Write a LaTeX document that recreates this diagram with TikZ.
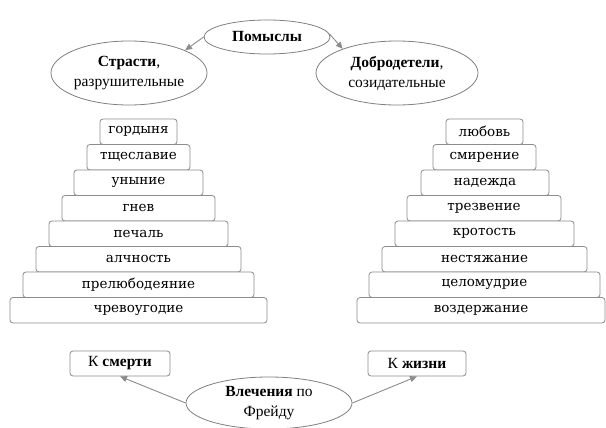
\documentclass[tikz,border=0pt]{standalone}
\usepackage{fontspec}
\setmainfont{Liberation Serif}
\newfontfamily\boxfont{DejaVu Serif}
\usetikzlibrary{shapes.geometric,arrows.meta}
\tikzset{
  stepbox/.style={draw=black!45, line width=0.8pt, rounded corners=3pt, fill=white,
    minimum height=25.5pt, inner sep=0pt, font=\boxfont\fontsize{13.5}{15}\selectfont},
  oval/.style={ellipse, draw=black!50, line width=0.8pt, inner sep=0pt, align=center,
    font=\fontsize{15.5}{20}\selectfont},
  arr/.style={draw=black!45, line width=0.9pt, -{Triangle[length=7pt,width=6pt]}},
  lbox/.style={draw=black!45, line width=0.8pt, rounded corners=3pt, minimum height=25pt,
    inner sep=0pt, font=\fontsize{15.5}{16}\selectfont}
}
\begin{document}
\begin{tikzpicture}[x=1pt,y=-1pt]
\useasboundingbox (0,0) rectangle (606,428);
\fill[white] (0,0) rectangle (606,428);

% top ellipses
\node[oval, minimum width=126pt, minimum height=34pt] (pom) at (267,37) {\textbf{Помыслы}};
\node[oval, minimum width=152pt, minimum height=64pt] (str) at (129,73) {\textbf{Страсти},\\разрушительные};
\node[oval, minimum width=162pt, minimum height=64pt] (dob) at (397,73) {\textbf{Добродетели},\\созидательные};

\draw[arr] (pom.180) -- (str.22);
\draw[arr] (pom.3) -- (dob.156);

% left pyramid
\foreach \t/\w [count=\i from 0] in {гордыня/77, тщеславие/103, уныние/129, гнев/153,
    печаль/179, алчность/205, прелюбодеяние/231, чревоугодие/257}{
  \node[stepbox, minimum width=\w pt] (L\i) at (138.5,{131.75+25.5*\i}) {\t};
}
% right pyramid
\foreach \t/\w/\cx [count=\i from 0] in {любовь/77/484.5, смирение/103/484.5, надежда/128/485,
    трезвение/154/484, кротость/179/484.5, нестяжание/205/484.5, целомудрие/231/484.5,
    воздержание/248/481}{
  \node[stepbox, minimum width=\w pt] (R\i) at (\cx,{131.75+25.5*\i}) {\t};
}

% bottom
\node[lbox, minimum width=100pt] (smert) at (120,363.5) {К \textbf{смерти}};
\node[lbox, minimum width=98pt] (zhizn) at (417,363.5) {К \textbf{жизни}};
\node[oval, minimum width=166pt, minimum height=52pt] (vle) at (269,403) {\textbf{Влечения} по\\Фрейду};

\draw[arr] (vle.west) -- (smert.south);
\draw[arr] (vle.east) -- (zhizn.south);
\end{tikzpicture}
\end{document}
